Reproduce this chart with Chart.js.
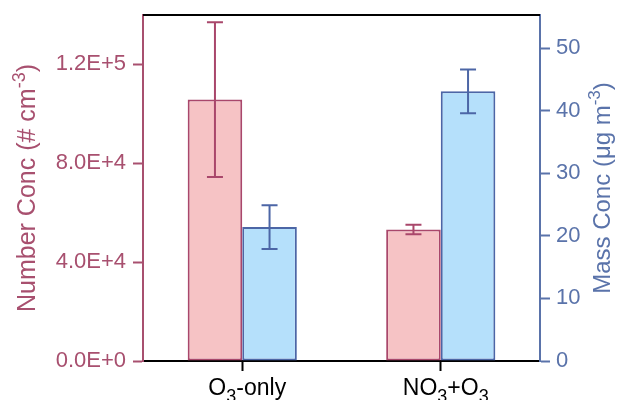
<!DOCTYPE html>
<html>
<head>
<meta charset="utf-8">
<script src="https://cdn.jsdelivr.net/npm/chart.js@4/dist/chart.umd.min.js"></script>
<style>
html,body{margin:0;padding:0;background:#fff;}
#wrap{width:619px;height:400px;}
</style>
</head>
<body>
<div id="wrap"><canvas id="c" width="619" height="400"></canvas></div>
<script>
const categories = ['O\u2083-only', 'NO\u2083+O\u2083'];
const numberConc = [105800, 53200];
const numberErr = [31300, 1900];
const massConc = [21.4, 43.1];
const massErr = [3.5, 3.5];
const leftTicks = [0, 40000, 80000, 120000];
const rightTicks = [0, 10, 20, 30, 40, 50];
const leftTitle = 'Number Conc (# cm\u207B\u00B3)';
const rightTitle = 'Mass Conc (\u03BCg m\u207B\u00B3)';

const RED_FILL = '#f6c3c5', RED_LINE = '#a9476b', RED_TEXT = '#a8506f';
const BLUE_FILL = '#b5e0fb', BLUE_LINE = '#4c66a6', BLUE_TEXT = '#5a73aa';
const FONT = '"Liberation Sans", Arial, sans-serif';

const SUB = {'\u2083': '3'};
const SUP = {'\u207B': '-', '\u00B3': '3'};
function parseRich(str) {
  const parts = [];
  for (const ch of str) {
    let kind = 'n', t = ch;
    if (SUB[ch]) { kind = 'sub'; t = SUB[ch]; }
    else if (SUP[ch]) { kind = 'sup'; t = SUP[ch]; }
    const last = parts[parts.length - 1];
    if (last && last.kind === kind) last.text += t; else parts.push({ kind, text: t });
  }
  return parts;
}
function drawRich(ctx, str, x, y, size, color, small) {
  const parts = parseRich(str);
  const ss = Math.round(size * small);
  let w = 0;
  for (const p of parts) {
    ctx.font = (p.kind === 'n' ? size : ss) + 'px ' + FONT;
    w += ctx.measureText(p.text).width;
  }
  let cx = x - w / 2;
  ctx.fillStyle = color;
  ctx.textBaseline = 'alphabetic';
  ctx.textAlign = 'left';
  for (const p of parts) {
    let dy = 0;
    if (p.kind === 'n') ctx.font = size + 'px ' + FONT;
    else {
      ctx.font = ss + 'px ' + FONT;
      dy = p.kind === 'sub' ? size * 0.3 : -size * 0.4;
    }
    ctx.fillText(p.text, cx, y + dy);
    cx += ctx.measureText(p.text).width;
  }
}

const annotations = {
  id: 'annotations',
  afterDatasetsDraw(chart) {
    const ctx = chart.ctx;
    chart.data.datasets.forEach((ds, di) => {
      const meta = chart.getDatasetMeta(di);
      const scale = chart.scales[ds.yAxisID];
      meta.data.forEach((bar, i) => {
        const v = ds.data[i], e = ds.errors[i];
        const yTop = scale.getPixelForValue(v + e);
        const yBot = scale.getPixelForValue(v - e);
        const x = bar.x;
        ctx.save();
        ctx.strokeStyle = ds.borderColor;
        ctx.lineWidth = 2;
        ctx.beginPath();
        ctx.moveTo(x, yTop); ctx.lineTo(x, yBot);
        ctx.moveTo(x - 8, yTop); ctx.lineTo(x + 8, yTop);
        ctx.moveTo(x - 8, yBot); ctx.lineTo(x + 8, yBot);
        ctx.stroke();
        ctx.restore();
      });
    });
  },
  afterDraw(chart) {
    const a = chart.chartArea, ctx = chart.ctx;
    ctx.save();
    ctx.strokeStyle = '#000';
    ctx.lineWidth = 2;
    ctx.beginPath();
    ctx.moveTo(a.left, a.top); ctx.lineTo(a.right, a.top);
    ctx.stroke();
    const xs = chart.scales.x;
    categories.forEach((c, i) => {
      drawRich(ctx, c, xs.getPixelForValue(i) + 5, a.bottom + 34, 23, '#000', 0.78);
    });
    const midY = (a.top + a.bottom) / 2;
    ctx.save();
    ctx.translate(35, midY);
    ctx.rotate(-Math.PI / 2);
    drawRich(ctx, leftTitle, 0, 0, 25, RED_TEXT, 0.72);
    ctx.restore();
    ctx.save();
    ctx.translate(610, midY);
    ctx.rotate(-Math.PI / 2);
    drawRich(ctx, rightTitle, 0, 0, 24, BLUE_TEXT, 0.72);
    ctx.restore();
    ctx.restore();
  }
};

new Chart(document.getElementById('c'), {
  type: 'bar',
  data: {
    labels: categories,
    datasets: [
      { label: 'Number Conc', data: numberConc, errors: numberErr, yAxisID: 'y',
        backgroundColor: RED_FILL, borderColor: RED_LINE, borderWidth: 2, borderSkipped: false,
        categoryPercentage: 0.55, barPercentage: 1.0 },
      { label: 'Mass Conc', data: massConc, errors: massErr, yAxisID: 'y1',
        backgroundColor: BLUE_FILL, borderColor: BLUE_LINE, borderWidth: 2, borderSkipped: false,
        categoryPercentage: 0.55, barPercentage: 1.0 }
    ]
  },
  options: {
    responsive: false,
    animation: false,
    devicePixelRatio: 1,
    layout: { padding: { top: 15, left: 0, right: 0, bottom: 0 } },
    plugins: { legend: { display: false }, tooltip: { enabled: false } },
    scales: {
      x: {
        grid: { display: true, drawOnChartArea: false, offset: false, tickLength: 10, tickColor: '#000', tickWidth: 2 },
        border: { color: '#000', width: 2 },
        ticks: { display: false },
        afterFit(s) { s.height = 39; s.paddingLeft = 0; s.paddingRight = 0; }
      },
      y: {
        position: 'left', min: 0, max: 140000,
        grid: { drawOnChartArea: false, tickLength: 10, tickColor: RED_TEXT, tickWidth: 2 },
        border: { color: RED_TEXT, width: 2 },
        ticks: { stepSize: 40000, includeBounds: false, color: RED_TEXT, padding: 7,
          font: { family: FONT, size: 22 },
          callback: v => Number(v).toExponential(1).toUpperCase() },
        afterBuildTicks(s) { s.ticks = leftTicks.map(v => ({ value: v })); },
        title: { display: false },
        afterFit(s) { s.width = 143; s.paddingTop = 0; s.paddingBottom = 0; }
      },
      y1: {
        position: 'right', min: 0, max: 55.3,
        grid: { drawOnChartArea: false, tickLength: 10, tickColor: BLUE_TEXT, tickWidth: 2 },
        border: { color: BLUE_TEXT, width: 2 },
        ticks: { stepSize: 10, includeBounds: false, color: BLUE_TEXT, padding: 6,
          font: { family: FONT, size: 22 } },
        afterBuildTicks(s) { s.ticks = rightTicks.map(v => ({ value: v })); },
        title: { display: false },
        afterFit(s) { s.width = 79; s.paddingTop = 0; s.paddingBottom = 0; }
      }
    }
  },
  plugins: [annotations]
});
</script>
</body>
</html>
